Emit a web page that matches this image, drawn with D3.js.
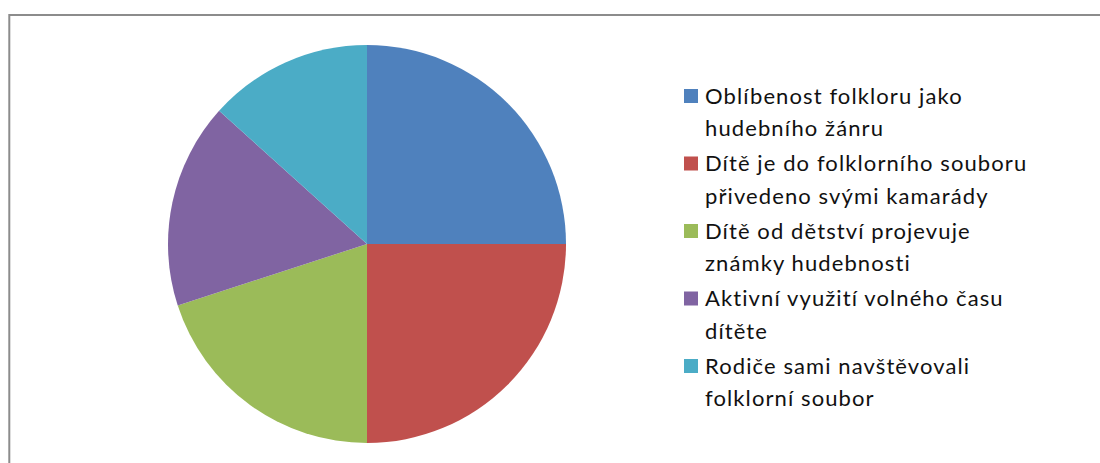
<!DOCTYPE html>
<html>
<head>
<meta charset="utf-8">
<script src="https://cdn.jsdelivr.net/npm/d3@7"></script>
<style>
  body { margin: 0; background: #fff; }
  svg { display: block; }
</style>
</head>
<body>
<svg id="chart" width="1100" height="463"></svg>
<script>
// Data (shares of the pie).
const categories = [
    ["Oblíbenost folkloru jako", "hudebního žánru"],
    ["Dítě je do folklorního souboru", "přivedeno svými kamarády"],
    ["Dítě od dětství projevuje", "známky hudebnosti"],
    ["Aktivní využití volného času", "dítěte"],
    ["Rodiče sami navštěvovali", "folklorní soubor"]
];
const values = [15, 15, 12, 10, 8];
const colors = ["#4F81BD", "#C0504D", "#9BBB59", "#8064A2", "#4BACC6"];

let svg = d3.select("#chart");

// Chart frame.
svg.append("rect")
    .attr("x", 9.3)
    .attr("y", 15)
    .attr("width", 1200)
    .attr("height", 600)
    .attr("fill", "none")
    .attr("stroke", "#8c8c8c")
    .attr("stroke-width", 2);

// Pie.
let pieAttr = { cx: 367, cy: 244, r: 199 };
let pie = d3.pie().sort(null).value(d => d);
let arc = d3.arc().innerRadius(0).outerRadius(pieAttr.r);

let pieGroup = svg.append("g")
    .attr("transform", "translate(" + pieAttr.cx + "," + pieAttr.cy + ")");
pieGroup.selectAll("path")
    .data(pie(values))
    .enter()
    .append("path")
    .attr("d", arc)
    .attr("fill", (d, i) => colors[i]);

// Legend.
let legendAttr = { x: 684, y: 96, entryStep: 67.5, lineStep: 32.5, box: 14, textX: 705 };
let legend = svg.append("g");
categories.forEach((lines, i) => {
    let y = legendAttr.y + i * legendAttr.entryStep;
    legend.append("rect")
        .attr("x", legendAttr.x)
        .attr("y", y - legendAttr.box / 2)
        .attr("width", legendAttr.box)
        .attr("height", legendAttr.box)
        .attr("fill", colors[i]);
    lines.forEach((line, j) => {
        legend.append("text")
            .attr("x", legendAttr.textX)
            .attr("y", y + j * legendAttr.lineStep)
            .attr("dy", "0.35em")
            .attr("font-family", "Lato, 'Open Sans', sans-serif")
            .attr("font-size", 22)
            .attr("letter-spacing", 1.1)
            .attr("fill", "#111")
            .text(line);
    });
});
</script>
</body>
</html>
